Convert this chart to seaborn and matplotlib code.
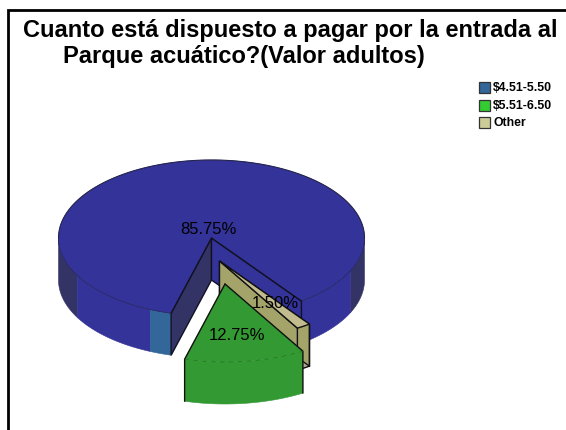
# -*- coding: utf-8 -*-
import numpy as np
import matplotlib
matplotlib.use('Agg')
import matplotlib.pyplot as plt
from matplotlib.patches import Polygon, Rectangle
import seaborn as sns

title_lines = ["Cuanto está dispuesto a pagar por la entrada al",
               "Parque acuático?(Valor adultos)"]
categories = ["$4.51-5.50", "$5.51-6.50", "Other"]
shares = [85.75, 12.75, 1.50]
legend_colors = ["#336699", "#33CC33", "#CCCC99"]

# geometria de la torta en pixeles
CX, CY = 211.5, 238.0
RX, RY = 153.0, 78.0
DEPTH = 42.0
START = -54.0  # angulo donde empieza la porcion azul
OTHER_SHIFT = (8.0, 23.0)
GREEN_SHIFT = (13.5, 46.0)

sns.set_theme(style='white')
plt.rcParams['font.family'] = ['Liberation Sans', 'DejaVu Sans']

fig = plt.figure(figsize=(5.66, 4.30), dpi=100)
ax = fig.add_axes([0, 0, 1, 1])
ax.set_xlim(0, 566)
ax.set_ylim(430, 0)
ax.axis('off')


def rim(a0, a1, cx, cy, dz=0.0, n=120):
    t = np.radians(np.linspace(a0, a1, n))
    return np.column_stack([cx + RX * np.cos(t), cy - RY * np.sin(t) + dz])


def poly(pts, color, z, edge=None, lw=0.4):
    # borde del mismo color para que no queden costuras blancas
    ax.add_patch(Polygon(pts, closed=True, facecolor=color,
                         edgecolor=edge or color, linewidth=lw, zorder=z,
                         joinstyle='miter'))


def side(a0, a1, cx, cy, color, z):
    poly(np.vstack([rim(a0, a1, cx, cy), rim(a1, a0, cx, cy, DEPTH)]), color, z)


def wall(a, cx, cy, color, z, lw=1.0):
    e = rim(a, a, cx, cy, n=1)[0]
    poly([(cx, cy), e, (e[0], e[1] + DEPTH), (cx, cy + DEPTH)], color, z, '#111122', lw)


# angulos a partir de los porcentajes
sweeps = [s / 100 * 360 for s in shares]
a_blue_end = START + sweeps[0]
a_green_end = a_blue_end + sweeps[1]
a_other_end = a_green_end + sweeps[2]

# porcion azul
side(180, 208.8, CX, CY, '#333366', 1)
side(208.8, 246.5, CX, CY, '#333399', 1)
side(246.5, a_blue_end, CX, CY, '#336699', 1)
side(-24.8, 0, CX, CY, '#333366', 1)
side(START, -24.8, CX, CY, '#333399', 1)
wall(a_blue_end, CX, CY, '#333366', 2)
wall(START, CX, CY, '#333399', 2)
blue_top = np.vstack([[(CX, CY)], rim(START, a_blue_end, CX, CY)])
poly(blue_top, '#333399', 3)
ax.plot(*rim(0, 180, CX, CY).T, color='#26264D', lw=0.8, zorder=3)
ax.plot(*rim(180, a_blue_end, CX, CY).T, color='#26265A', lw=0.5, zorder=3)
ax.plot(*rim(START, 0, CX, CY).T, color='#26265A', lw=0.5, zorder=3)
for a in (START, a_blue_end):
    e = rim(a, a, CX, CY, n=1)[0]
    ax.plot([CX, e[0]], [CY, e[1]], color='#111122', lw=1.0, zorder=3)

# porcion Other, separada
ox, oy = CX + OTHER_SHIFT[0], CY + OTHER_SHIFT[1]
side(a_green_end, a_other_end, ox, oy, '#B3AD8F', 4)
wall(a_green_end, ox, oy, '#A3A36A', 5)
wall(a_other_end, ox, oy, '#A3A36A', 4)
other_top = np.vstack([[(ox, oy)], rim(a_green_end, a_other_end, ox, oy)])
poly(other_top, '#C2BC8E', 6, '#111111', 1.0)
e = rim(a_other_end, a_other_end, ox, oy, n=1)[0]
ax.plot([e[0], e[0]], [e[1], e[1] + DEPTH], color='#111111', lw=1.0, zorder=6)
ax.plot(*rim(a_green_end, a_other_end, ox, oy, DEPTH).T, color='#111111', lw=1.0, zorder=6)

# porcion verde, separada
gx, gy = CX + GREEN_SHIFT[0], CY + GREEN_SHIFT[1]
side(a_blue_end, a_green_end, gx, gy, '#339933', 7)
green_top = np.vstack([[(gx, gy)], rim(a_blue_end, a_green_end, gx, gy)])
poly(green_top, '#339933', 8)
for a in (a_blue_end, a_green_end):
    e = rim(a, a, gx, gy, n=1)[0]
    ax.plot([gx, e[0], e[0]], [gy, e[1], e[1] + DEPTH], color='#111111', lw=1.0, zorder=9)
ax.plot(*rim(a_blue_end, a_green_end, gx, gy).T, color='#1E6B1E', lw=0.4,
        ls=(0, (8, 8)), zorder=9)

# etiquetas
for txt, x, y in zip([f"{s:.2f}%" for s in shares], [208, 237, 275], [229, 335, 304]):
    ax.text(x, y, txt, fontsize=12, color='black', ha='center', va='center', zorder=10)

# titulo
ax.text(23, 30, title_lines[0], fontsize=17, fontweight='bold', color='black',
        ha='left', va='center', zorder=10)
ax.text(63, 57, title_lines[1], fontsize=17, fontweight='bold', color='black',
        ha='left', va='center', zorder=10)

# leyenda
for i, (name, col) in enumerate(zip(categories, legend_colors)):
    y = 88 + i * 17.7
    ax.add_patch(Rectangle((479, y - 6), 11, 11, facecolor=col, edgecolor='#333333',
                           linewidth=0.9, zorder=10))
    ax.text(493, y, name, fontsize=8.8, fontweight='bold', color='black', ha='left',
            va='center', zorder=10)

# marco: solo arriba y a la izquierda
ax.plot([7.5, 7.5, 566], [430, 9.5, 9.5], color='black', lw=2.0, zorder=11,
        solid_joinstyle='miter')

fig.savefig('out.png', dpi=100, facecolor='white')
